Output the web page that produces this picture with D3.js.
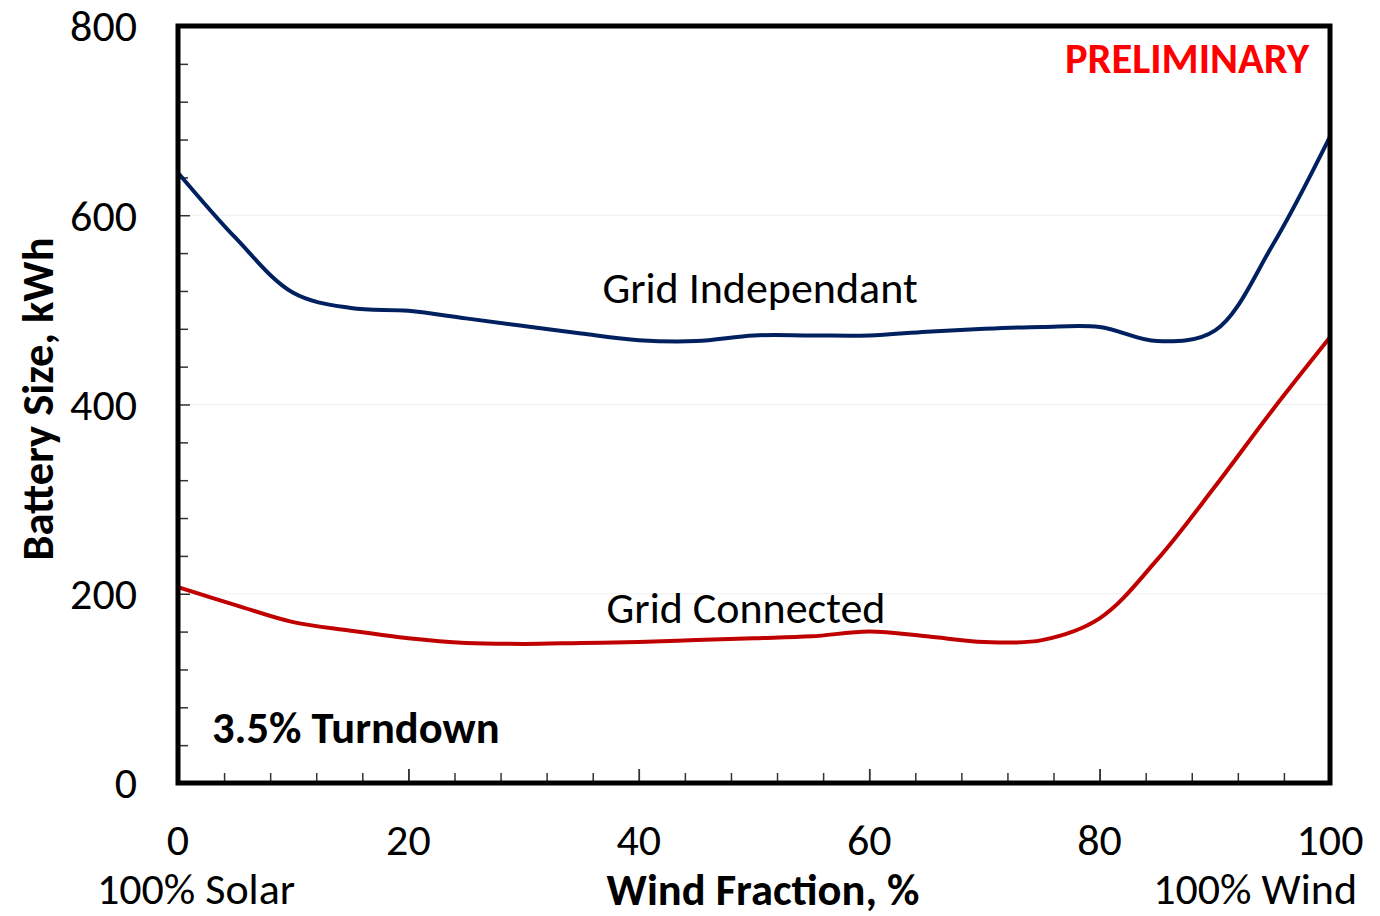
<!DOCTYPE html>
<html lang="en">
<head>
<meta charset="utf-8">
<title>Battery Size vs Wind Fraction</title>
<script src="https://d3js.org/d3.v7.min.js"></script>
<style>
  body {
    margin: 0;
    background: #fff;
    font-family: Carlito, Calibri, Lato, sans-serif;
  }
</style>
</head>
<body>
<div id="vis"></div>
<script>
// wind fraction, %
const windFraction = [0, 5, 10, 15, 20, 25, 30, 35, 40, 45, 50, 55, 60, 65, 70, 75, 80, 85, 90, 95, 100];
// battery size, kWh
const gridIndependent = [645, 576, 518, 502, 499, 491, 483, 475, 468, 467, 473, 473, 473, 477, 480, 482, 482, 467, 478, 568, 683];
const gridConnected = [207, 188, 170, 161, 153, 148, 147, 148, 149, 151, 153, 155, 160, 155, 149, 151, 174, 236, 313, 394, 471];

const xTicks = [0, 20, 40, 60, 80, 100];
const yTicks = [0, 200, 400, 600, 800];

const width = 1380;
const height = 916;
const margin = { top: 26, right: 50, bottom: 133, left: 178 };

const svg = d3.select('#vis')
  .append('svg')
  .attr('width', width)
  .attr('height', height);

const x = d3.scaleLinear()
  .domain([0, 100])
  .range([margin.left, width - margin.right]);

const y = d3.scaleLinear()
  .domain([0, 800])
  .range([height - margin.bottom, margin.top]);

// faint gridlines
svg.append('g')
  .selectAll('line')
  .data([200, 400, 600])
  .join('line')
  .attr('x1', x(0)).attr('x2', x(100))
  .attr('y1', d => y(d)).attr('y2', d => y(d))
  .attr('stroke', '#efefef')
  .attr('stroke-width', 1);

// minor + major ticks, pointing inward
const yAxis = d3.axisRight(y)
  .tickValues(d3.range(0, 801, 40))
  .tickSize(0)
  .tickFormat('');
svg.append('g')
  .attr('transform', `translate(${x(0)},0)`)
  .call(yAxis)
  .call(g => g.select('.domain').remove())
  .call(g => g.selectAll('.tick line')
    .attr('x2', d => d % 200 === 0 ? 12 : 10)
    .attr('stroke', '#333')
    .attr('stroke-width', 1.5));

const xAxis = d3.axisTop(x)
  .tickValues(d3.range(0, 101, 4).concat([20, 40, 60, 80]))
  .tickSize(0)
  .tickFormat('');
svg.append('g')
  .attr('transform', `translate(0,${y(0)})`)
  .call(xAxis)
  .call(g => g.select('.domain').remove())
  .call(g => g.selectAll('.tick line')
    .attr('y2', d => d % 20 === 0 ? -14 : -10)
    .attr('stroke', '#333')
    .attr('stroke-width', 1.5));

// tick labels
svg.append('g')
  .selectAll('text')
  .data(yTicks)
  .join('text')
  .attr('x', 137)
  .attr('y', d => y(d))
  .attr('dy', '0.35em')
  .attr('text-anchor', 'end')
  .style('font-size', '44px')
  .text(d => d);

svg.append('g')
  .selectAll('text')
  .data(xTicks)
  .join('text')
  .attr('x', d => x(d))
  .attr('y', 855)
  .attr('text-anchor', 'middle')
  .style('font-size', '44px')
  .text(d => d);

// series lines
const line = d3.line()
  .x((d, i) => x(windFraction[i]))
  .y(d => y(d))
  .curve(d3.curveCatmullRom);

svg.append('path')
  .datum(gridIndependent)
  .attr('fill', 'none')
  .attr('stroke', '#002060')
  .attr('stroke-width', 4)
  .attr('d', line);

svg.append('path')
  .datum(gridConnected)
  .attr('fill', 'none')
  .attr('stroke', '#c00000')
  .attr('stroke-width', 4)
  .attr('d', line);

// plot frame
svg.append('rect')
  .attr('x', x(0))
  .attr('y', y(800))
  .attr('width', x(100) - x(0))
  .attr('height', y(0) - y(800))
  .attr('fill', 'none')
  .attr('stroke', '#000')
  .attr('stroke-width', 5);

// annotations
svg.append('text')
  .attr('x', 760).attr('y', 303)
  .attr('text-anchor', 'middle')
  .style('font-size', '44px')
  .text('Grid Independant');

svg.append('text')
  .attr('x', 746).attr('y', 623)
  .attr('text-anchor', 'middle')
  .style('font-size', '44px')
  .text('Grid Connected');

svg.append('text')
  .attr('x', 1309).attr('y', 73)
  .attr('text-anchor', 'end')
  .style('font-size', '42.5px')
  .style('font-weight', 'bold')
  .attr('fill', '#ff0000')
  .text('PRELIMINARY');

svg.append('text')
  .attr('x', 212).attr('y', 743)
  .style('font-size', '44.5px')
  .style('font-weight', 'bold')
  .text('3.5% Turndown');

// axis titles
svg.append('text')
  .attr('x', 196).attr('y', 904)
  .attr('text-anchor', 'middle')
  .style('font-size', '44px')
  .text('100% Solar');

svg.append('text')
  .attr('x', 1357).attr('y', 904)
  .attr('text-anchor', 'end')
  .style('font-size', '44px')
  .text('100% Wind');

svg.append('text')
  .attr('x', 763).attr('y', 905)
  .attr('text-anchor', 'middle')
  .style('font-size', '44.5px')
  .style('font-weight', 'bold')
  .text('Wind Fraction, %');

svg.append('text')
  .attr('transform', 'translate(53,399) rotate(-90)')
  .attr('text-anchor', 'middle')
  .style('font-size', '44.5px')
  .style('font-weight', 'bold')
  .text('Battery Size, kWh');
</script>
</body>
</html>
